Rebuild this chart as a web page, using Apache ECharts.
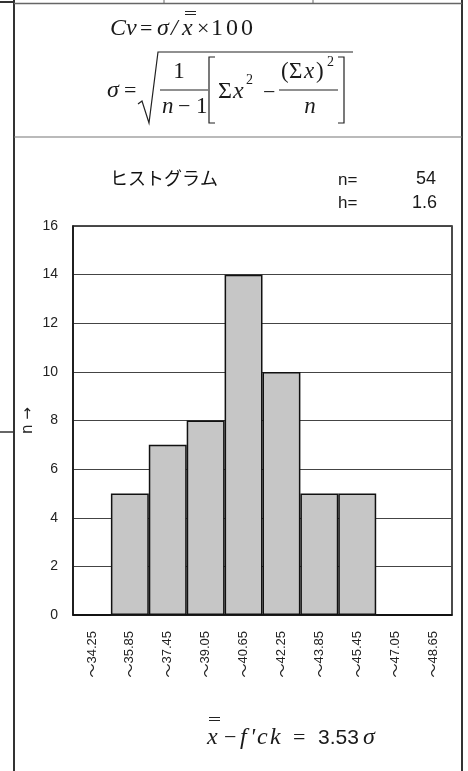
<!DOCTYPE html>
<html>
<head>
<meta charset="utf-8">
<script src="https://cdn.jsdelivr.net/npm/echarts@6/dist/echarts.min.js"></script>
<style>
html,body{margin:0;padding:0;background:#fff;}
#c{width:468px;height:771px;}
</style>
</head>
<body>
<div id="c"></div>
<script>
// ---- data ----
var categories = ['34.25','35.85','37.45','39.05','40.65','42.25','43.85','45.45','47.05','48.65'];
var counts = [0, 5, 7, 8, 14, 10, 5, 5, 0, 0];
var statLabels = ['n=', 'h='];
var statValues = ['54', '1.6'];
var titleText = 'ヒストグラム';
var resultValue = '3.53';

var SERIF = '"Liberation Serif","Times New Roman",serif';
var SANS = '"Liberation Sans",Arial,sans-serif';

function t(x, y, text, opt) {
  opt = opt || {};
  var size = opt.size || 24;
  var fam = opt.family || SERIF;
  var style = (opt.italic ? 'italic ' : '') + (opt.bold ? 'bold ' : '');
  var al = opt.align || 'left';
  return {
    type: 'text', x: x, y: y, z: 100,
    style: {
      text: text, fill: opt.color || '#1a1a1a',
      font: style + size + 'px ' + fam,
      textAlign: al, align: al,
      textVerticalAlign: 'middle', verticalAlign: 'middle'
    }
  };
}
function ln(x1, y1, x2, y2, w, c) {
  return { type: 'line', z: 100, shape: {x1: x1, y1: y1, x2: x2, y2: y2},
    style: {stroke: c || '#222', lineWidth: w || 1.2} };
}
function pl(points, w, c) {
  return { type: 'polyline', z: 100, shape: {points: points},
    style: {stroke: c || '#222', lineWidth: w || 1.2, fill: null} };
}

var elements = [
  // frame
  ln(14, 0, 14, 771, 2, '#333'),
  ln(462, 0, 462, 771, 2, '#333'),
  ln(0, 2, 14, 2, 2, '#333'),
  ln(14, 3.5, 462, 3.5, 1.5, '#666'),
  ln(164, 0, 164, 3, 1, '#666'),
  ln(313, 0, 313, 3, 1, '#666'),
  ln(14, 137, 462, 137, 1.2, '#777'),
  ln(0, 432, 14, 432, 1.5, '#333'),

  // formula 1: Cv = σ / x̿ ×100
  t(110, 29, 'Cv', {italic: true}),
  t(140, 29, '=', {size: 22}),
  t(157, 29, 'σ', {italic: true}),
  t(171, 29, '/', {italic: true}),
  t(182, 29, 'x', {italic: true}),
  ln(185, 11.5, 196, 11.5, 1),
  ln(185, 14.5, 196, 14.5, 1),
  t(197, 29, '×', {size: 22}),
  t(211, 29, '1'),
  t(226, 29, '0'),
  t(241, 29, '0'),

  // formula 2
  t(107, 91, 'σ', {italic: true}),
  t(124, 91, '=', {size: 22}),
  pl([[138, 104], [142, 101], [149, 123], [158, 52], [353, 52]], 1.2),
  t(179, 72, '1', {align: 'center', size: 23}),
  ln(160, 90, 208, 90, 1.1),
  t(162, 107, 'n', {italic: true, size: 23}),
  t(178, 107, '−', {size: 22}),
  t(196, 107, '1', {size: 23}),
  pl([[215, 57], [209, 57], [209, 123], [215, 123]], 1.2),
  t(218, 92, 'Σ'),
  t(233, 92, 'x', {italic: true}),
  t(246, 80, '2', {size: 14}),
  t(263, 93, '−', {size: 22}),
  t(281, 72, '(', {size: 23}),
  t(289, 72, 'Σ', {size: 23}),
  t(304, 72, 'x', {italic: true, size: 23}),
  t(316, 72, ')', {size: 23}),
  t(327, 62, '2', {size: 14}),
  ln(279, 90, 338, 90, 1.1),
  t(310, 107, 'n', {italic: true, size: 23, align: 'center'}),
  pl([[338, 57], [344, 57], [344, 123], [338, 123]], 1.2),

  // title and stats
  t(110, 178, titleText, {family: '"Noto Sans CJK JP",sans-serif', size: 18, color: '#111'}),
  t(338, 180, statLabels[0], {family: SANS, size: 17}),
  t(436, 179, statValues[0], {family: SANS, size: 18, align: 'right'}),
  t(338, 203, statLabels[1], {family: SANS, size: 17}),
  t(437, 203, statValues[1], {family: SANS, size: 18, align: 'right'}),

  // bottom formula
  t(207, 738, 'x', {italic: true}),
  ln(209, 717.5, 220, 717.5, 1),
  ln(209, 720.5, 220, 720.5, 1),
  t(224, 738, '−', {size: 22}),
  t(240, 738, 'f', {italic: true}),
  t(250, 738, "'", {italic: true}),
  t(257, 738, 'c', {italic: true}),
  t(270, 738, 'k', {italic: true}),
  t(293, 738, '=', {size: 22}),
  t(318, 738, resultValue, {family: SANS, size: 21}),
  t(363, 738, 'σ', {italic: true})
];

var chart = echarts.init(document.getElementById('c'));
chart.setOption({
  animation: false,
  backgroundColor: '#fff',
  grid: {left: 73, right: 16, top: 226, bottom: 156, show: true, borderColor: '#111', borderWidth: 1.5, backgroundColor: 'transparent'},
  xAxis: {
    type: 'category', data: categories,
    axisLine: {show: true, lineStyle: {color: '#111', width: 1.5}},
    axisTick: {show: false},
    axisLabel: {
      rotate: 90, margin: 16, interval: 0,
      formatter: function (v) { return '{t|〜}{d|' + v + '}'; },
      rich: {
        t: {fontSize: 14, color: '#222', fontFamily: '"Noto Sans CJK JP",sans-serif'},
        d: {fontSize: 13, color: '#222', fontFamily: SANS}
      }
    }
  },
  yAxis: {
    type: 'value', min: 0, max: 16, interval: 2,
    name: 'n →', nameLocation: 'middle', nameGap: 37, nameRotate: 90,
    nameMoveOverlap: false,
    nameTextStyle: {fontSize: 15, color: '#222', fontFamily: '"DejaVu Sans",sans-serif'},
    axisLine: {show: true, lineStyle: {color: '#111', width: 1.5}},
    axisTick: {show: false},
    axisLabel: {margin: 15, fontSize: 14, color: '#222', fontFamily: SANS},
    splitLine: {show: true, lineStyle: {color: '#444', width: 1}}
  },
  series: [{
    type: 'bar', data: counts, barCategoryGap: '0%',
    itemStyle: {color: '#c6c6c6', borderColor: '#111', borderWidth: 1.5}
  }],
  graphic: {elements: elements}
});
</script>
</body>
</html>
